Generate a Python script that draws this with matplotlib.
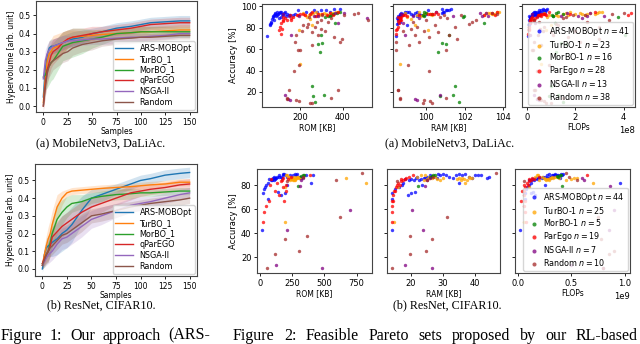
import matplotlib
matplotlib.use("Agg")
import matplotlib.pyplot as plt
import numpy as np

# ---- hypervolume curves (mean and half band width) ----
samples = [0, 2, 4, 6, 8, 10, 15, 20, 25, 30, 40, 50, 60, 75, 90, 100, 110, 125, 140, 150]
hv_labels = ["ARS-MOBOpt", "TurBO_1", "MorBO_1", "qParEGO", "NSGA-II", "Random"]

mb_hv_ars = [0.05, 0.2, 0.28, 0.32, 0.33, 0.33, 0.34, 0.35, 0.36, 0.37, 0.38, 0.40, 0.41, 0.43, 0.44, 0.45, 0.46, 0.465, 0.47, 0.47]
mb_sd_ars = [0.05, 0.06, 0.05, 0.04, 0.04, 0.04, 0.04, 0.04, 0.04, 0.04, 0.04, 0.03, 0.03, 0.03, 0.03, 0.03, 0.03, 0.03, 0.03, 0.03]
mb_hv_turbo = [0.02, 0.15, 0.25, 0.29, 0.3, 0.32, 0.33, 0.35, 0.37, 0.38, 0.385, 0.39, 0.395, 0.40, 0.405, 0.41, 0.41, 0.415, 0.42, 0.42]
mb_sd_turbo = [0.03, 0.06, 0.07, 0.07, 0.07, 0.07, 0.07, 0.06, 0.05, 0.04, 0.03, 0.03, 0.03, 0.03, 0.03, 0.03, 0.03, 0.03, 0.03, 0.03]
mb_hv_morbo = [0.16, 0.17, 0.2, 0.22, 0.24, 0.25, 0.29, 0.33, 0.34, 0.35, 0.36, 0.37, 0.38, 0.40, 0.405, 0.41, 0.41, 0.41, 0.41, 0.41]
mb_sd_morbo = [0.05, 0.08, 0.1, 0.1, 0.1, 0.1, 0.09, 0.08, 0.08, 0.08, 0.07, 0.05, 0.04, 0.03, 0.03, 0.03, 0.03, 0.03, 0.03, 0.03]
mb_hv_parego = [0.0, 0.12, 0.2, 0.24, 0.28, 0.3, 0.32, 0.35, 0.37, 0.38, 0.39, 0.40, 0.41, 0.42, 0.43, 0.44, 0.45, 0.455, 0.46, 0.46]
mb_sd_parego = [0.03, 0.06, 0.07, 0.07, 0.07, 0.07, 0.06, 0.06, 0.05, 0.05, 0.04, 0.04, 0.03, 0.03, 0.03, 0.03, 0.03, 0.03, 0.03, 0.03]
mb_hv_nsga = [0.15, 0.25, 0.29, 0.31, 0.32, 0.33, 0.34, 0.35, 0.36, 0.36, 0.365, 0.37, 0.37, 0.375, 0.38, 0.38, 0.385, 0.39, 0.40, 0.40]
mb_sd_nsga = [0.08, 0.06, 0.05, 0.05, 0.04, 0.04, 0.04, 0.04, 0.03, 0.03, 0.03, 0.03, 0.03, 0.03, 0.03, 0.02, 0.02, 0.02, 0.02, 0.02]
mb_hv_random = [0.0, 0.1, 0.18, 0.22, 0.24, 0.25, 0.27, 0.29, 0.30, 0.32, 0.34, 0.35, 0.36, 0.37, 0.375, 0.38, 0.38, 0.385, 0.39, 0.39]
mb_sd_random = [0.02, 0.05, 0.06, 0.06, 0.06, 0.05, 0.05, 0.05, 0.05, 0.04, 0.04, 0.04, 0.03, 0.03, 0.03, 0.03, 0.02, 0.02, 0.02, 0.02]

rn_hv_ars = [0.0, 0.08, 0.12, 0.13, 0.14, 0.15, 0.17, 0.2, 0.22, 0.25, 0.33, 0.40, 0.42, 0.45, 0.48, 0.50, 0.51, 0.53, 0.54, 0.545]
rn_sd_ars = [0.02, 0.04, 0.05, 0.06, 0.07, 0.08, 0.09, 0.1, 0.1, 0.1, 0.08, 0.05, 0.04, 0.03, 0.03, 0.03, 0.03, 0.03, 0.03, 0.03]
rn_hv_turbo = [0.02, 0.08, 0.13, 0.17, 0.2, 0.25, 0.35, 0.40, 0.43, 0.44, 0.445, 0.45, 0.455, 0.46, 0.465, 0.47, 0.475, 0.48, 0.49, 0.49]
rn_sd_turbo = [0.02, 0.05, 0.06, 0.07, 0.08, 0.08, 0.07, 0.04, 0.02, 0.02, 0.02, 0.02, 0.02, 0.02, 0.02, 0.02, 0.02, 0.02, 0.02, 0.02]
rn_hv_morbo = [0.03, 0.05, 0.08, 0.1, 0.15, 0.2, 0.28, 0.32, 0.35, 0.37, 0.38, 0.40, 0.41, 0.42, 0.425, 0.43, 0.43, 0.435, 0.44, 0.44]
rn_sd_morbo = [0.03, 0.04, 0.05, 0.06, 0.07, 0.08, 0.08, 0.07, 0.06, 0.05, 0.04, 0.03, 0.03, 0.03, 0.03, 0.02, 0.02, 0.02, 0.02, 0.02]
rn_hv_parego = [0.03, 0.06, 0.08, 0.1, 0.13, 0.18, 0.21, 0.24, 0.26, 0.28, 0.32, 0.35, 0.37, 0.40, 0.43, 0.44, 0.45, 0.46, 0.475, 0.48]
rn_sd_parego = [0.02, 0.04, 0.05, 0.06, 0.06, 0.06, 0.06, 0.06, 0.06, 0.06, 0.06, 0.05, 0.05, 0.04, 0.04, 0.03, 0.03, 0.03, 0.03, 0.03]
rn_hv_nsga = [0.02, 0.04, 0.06, 0.08, 0.09, 0.1, 0.14, 0.17, 0.18, 0.2, 0.24, 0.28, 0.3, 0.33, 0.36, 0.37, 0.38, 0.40, 0.42, 0.43]
rn_sd_nsga = [0.02, 0.03, 0.04, 0.05, 0.05, 0.05, 0.06, 0.06, 0.06, 0.06, 0.06, 0.05, 0.05, 0.04, 0.04, 0.04, 0.03, 0.03, 0.03, 0.03]
rn_hv_random = [0.02, 0.05, 0.08, 0.1, 0.12, 0.13, 0.16, 0.19, 0.2, 0.22, 0.26, 0.3, 0.31, 0.33, 0.35, 0.36, 0.37, 0.38, 0.39, 0.40]
rn_sd_random = [0.02, 0.03, 0.04, 0.05, 0.05, 0.05, 0.05, 0.05, 0.05, 0.05, 0.05, 0.04, 0.04, 0.04, 0.03, 0.03, 0.03, 0.03, 0.03, 0.03]

# ---- Pareto sets, MobileNetv3 / DaLiAc (flops in 1e8) ----
mb_ars_acc = [72, 82, 84, 85, 83, 88, 90, 92, 93, 94, 91, 92, 93, 94, 94.5, 95, 93, 92, 94, 95, 93, 92, 92, 93, 96, 94, 95, 96, 96, 95, 97, 97, 89, 91, 87, 95, 90, 91, 92, 95, 96]
mb_ars_rom = [44, 58, 62, 66, 60, 70, 75, 78, 82, 85, 88, 92, 95, 100, 105, 110, 115, 120, 125, 130, 140, 150, 165, 175, 190, 250, 280, 300, 320, 340, 360, 385, 100, 72, 80, 90, 112, 135, 155, 230, 265]
mb_ars_ram = [98.4, 99.0, 98.5, 98.6, 98.45, 98.5, 98.55, 98.6, 98.65, 98.7, 98.6, 98.75, 98.8, 98.9, 99.0, 99.1, 99.2, 99.3, 99.4, 99.5, 99.6, 99.7, 99.9, 100.0, 100.1, 100.8, 100.9, 101.0, 101.2, 100.85, 100.8, 101.3, 98.45, 98.5, 98.5, 98.9, 98.55, 99.5, 99.8, 100.5, 101.1]
mb_ars_flops = [0.05, 0.1, 0.12, 0.15, 0.08, 0.15, 0.18, 0.2, 0.22, 0.25, 0.2, 0.25, 0.3, 0.32, 0.35, 0.4, 0.35, 0.3, 0.45, 0.5, 0.42, 0.38, 0.45, 0.55, 0.6, 0.7, 0.75, 0.8, 0.5, 0.65, 0.85, 0.65, 0.12, 0.1, 0.1, 0.28, 0.15, 0.4, 0.45, 0.55, 0.7]

mb_turbo_acc = [46.5, 77.6, 82, 92, 93, 94, 95, 93, 92, 94, 93, 95, 94, 93, 92, 94, 90, 88, 91, 93, 94, 92, 95]
mb_turbo_rom = [200, 193, 255, 240, 250, 262, 275, 285, 330, 345, 360, 370, 310, 300, 225, 215, 235, 248, 268, 320, 355, 290, 380]
mb_turbo_ram = [98.6, 100.1, 99.4, 99.8, 99.9, 100.0, 99.6, 100.2, 103.0, 103.2, 103.5, 103.7, 103.3, 103.6, 99.5, 98.9, 99.0, 99.2, 99.7, 103.4, 103.1, 100.3, 103.8]
mb_turbo_flops = [0.6, 0.8, 1.0, 1.2, 1.5, 1.6, 1.8, 2.0, 2.4, 2.6, 2.8, 3.0, 2.2, 2.3, 0.9, 0.7, 0.85, 0.2, 1.3, 2.5, 2.9, 1.7, 3.1]

mb_morbo_acc = [26, 16, 17.5, 10.7, 65, 66, 57, 73, 90, 91, 92, 94, 84.5, 93, 95, 91]
mb_morbo_rom = [257, 260, 310, 268, 286, 305, 292, 297, 315, 330, 345, 375, 365, 355, 385, 340]
mb_morbo_ram = [101.5, 100.7, 101.4, 101.7, 101.0, 100.8, 100.6, 101.2, 101.9, 99.9, 99.8, 100.0, 103.0, 100.3, 99.9, 101.95]
mb_morbo_flops = [1.0, 0.9, 1.3, 1.5, 1.6, 1.4, 1.2, 4.06, 3.78, 1.1, 1.05, 1.2, 1.15, 1.5, 1.3, 1.07]

mb_parego_acc = [80.7, 74.5, 84, 87, 87, 88.5, 90, 91.6, 93, 93, 91.6, 94.7, 93, 91.6, 91.6, 94.7, 93, 91, 93, 90, 87, 79, 77.6, 91.6, 92, 89, 86, 94]
mb_parego_rom = [106, 109, 113, 121, 160, 158, 168, 184, 200, 216, 224, 255, 286, 325, 356, 376, 247, 273, 302, 121, 137, 116, 102, 153, 190, 128, 118, 340]
mb_parego_ram = [98.5, 98.4, 98.55, 98.6, 98.7, 98.65, 98.7, 98.8, 100.1, 100.3, 98.9, 100.5, 100.6, 103.0, 103.6, 103.7, 100.2, 99.0, 100.4, 98.5, 98.6, 98.45, 98.4, 98.75, 99.6, 98.6, 98.5, 103.4]
mb_parego_flops = [0.1, 0.05, 0.12, 0.15, 0.3, 0.35, 0.4, 0.5, 0.6, 0.7, 0.55, 2.8, 1.8, 4.2, 0.8, 0.9, 0.65, 0.6, 0.75, 0.2, 0.25, 0.1, 0.08, 0.45, 0.5, 0.18, 0.15, 4.3]

mb_nsga_acc = [17, 13, 12.5, 91, 91, 90.7, 90.7, 94, 84, 94, 89.4, 93, 73]
mb_nsga_rom = [130, 145, 152, 148, 195, 265, 286, 365, 376, 408, 515, 120, 160]
mb_nsga_ram = [100.7, 99.4, 99.5, 99.3, 101.4, 102.9, 103.2, 103.1, 98.8, 102.8, 99.6, 98.7, 98.9]
mb_nsga_flops = [0.3, 0.4, 0.5, 1.4, 2.1, 2.5, 3.2, 2.6, 0.35, 1.65, 2.3, 0.2, 0.15]

mb_random_acc = [13.8, 12.8, 12, 10, 10, 14, 21.6, 39.6, 45.5, 59, 63.6, 73, 82, 76, 73, 79, 77, 71, 67, 69, 87.5, 94, 91.6, 88.5, 85.4, 83, 80.7, 91.6, 22, 67, 59, 14.4, 76.7, 81, 93, 85, 87, 90]
mb_random_rom = [139, 183, 197, 245, 258, 347, 377, 170, 197, 200, 255, 183, 216, 255, 286, 299, 319, 361, 387, 396, 518, 471, 408, 347, 278, 239, 231, 302, 150, 175, 190, 140, 210, 270, 455, 330, 300, 240]
mb_random_ram = [98.6, 99.9, 100.2, 99.8, 100.3, 101.0, 98.5, 100.15, 99.05, 98.4, 99.1, 99.4, 100.45, 100.6, 101.2, 99.2, 99.9, 100.15, 98.4, 101.6, 102.6, 103.4, 101.8, 101.1, 102.4, 102.2, 101.5, 100.9, 98.5, 99.6, 101.0, 98.6, 98.8, 99.5, 103.7, 99.3, 100.0, 100.7]
mb_random_flops = [0.5, 0.6, 0.7, 1.0, 0.8, 1.5, 0.3, 0.4, 0.9, 0.25, 0.6, 0.45, 1.3, 0.98, 1.1, 0.55, 2.0, 1.7, 2.2, 3.0, 3.4, 4.0, 2.4, 1.5, 2.5, 1.2, 3.0, 1.9, 0.35, 0.3, 0.2, 0.45, 0.65, 0.7, 3.5, 0.5, 0.3, 1.6]

# ---- Pareto sets, ResNet / CIFAR10 (flops in 1e9) ----
rn_ars_acc = [43, 73, 77, 78, 80, 82, 68, 85, 84, 86, 87, 85, 86, 87, 88, 87, 86, 88, 89, 88, 87, 86, 74, 72, 73, 80, 86, 88, 89, 88, 89, 87, 86, 88, 82, 88, 85, 84, 87, 89, 88, 86, 87, 84]
rn_ars_rom = [18, 25, 30, 40, 50, 62, 65, 72, 90, 100, 110, 115, 125, 135, 150, 160, 170, 180, 190, 200, 210, 120, 140, 160, 195, 210, 250, 260, 270, 280, 290, 300, 320, 360, 395, 410, 95, 105, 145, 175, 230, 240, 310, 85]
rn_ars_ram = [14.1, 14.1, 15, 16.2, 17.3, 17.5, 14.2, 18, 20.9, 21.5, 22, 23, 24, 25, 26, 27, 28, 29, 30, 31, 32, 24.5, 21.4, 19, 20, 23.5, 33, 34, 35, 36, 37, 38, 39, 40, 35.1, 41, 20, 22.5, 26.5, 28.5, 42, 43.8, 44.5, 19.5]
rn_ars_flops = [0.02, 0.06, 0.07, 0.08, 0.1, 0.12, 0.06, 0.13, 0.15, 0.17, 0.2, 0.18, 0.22, 0.25, 0.27, 0.3, 0.28, 0.33, 0.35, 0.32, 0.38, 0.2, 0.14, 0.16, 0.12, 0.25, 0.3, 0.35, 0.4, 0.36, 0.42, 0.31, 0.27, 0.34, 0.96, 0.41, 0.14, 0.12, 0.23, 0.29, 0.37, 0.39, 0.33, 0.1]

rn_turbo_acc = [49, 78, 84, 85, 86, 87, 86, 85.6, 82, 87, 86, 85, 84, 88, 87, 86, 85, 84, 86, 87, 88, 87, 85, 84, 86]
rn_turbo_rom = [195, 195, 235, 245, 255, 265, 280, 670, 820, 290, 300, 275, 270, 210, 225, 230, 250, 260, 285, 295, 205, 215, 240, 265, 310]
rn_turbo_ram = [14.6, 16, 24, 25, 26, 27, 35, 36, 37, 38, 39, 34.5, 35.5, 24.5, 25.5, 26.5, 36.5, 37.5, 38.5, 27.5, 23, 22, 28, 29, 30]
rn_turbo_flops = [0.05, 0.1, 0.2, 0.25, 0.3, 0.32, 0.52, 0.55, 0.7, 0.35, 0.38, 0.5, 0.45, 0.18, 0.22, 0.24, 0.28, 0.26, 0.33, 0.36, 0.19, 0.16, 0.27, 0.29, 0.31]

rn_morbo_acc = [79, 87, 88, 87.5, 88]
rn_morbo_rom = [297, 330, 336, 320, 345]
rn_morbo_ram = [22.3, 26, 27.5, 26.5, 27]
rn_morbo_flops = [0.41, 0.37, 0.4, 0.36, 0.39]

rn_parego_acc = [49, 58, 63, 67, 80, 85, 75, 82, 72, 84, 78, 67, 75, 80, 85, 87, 86, 83, 88]
rn_parego_rom = [25, 30, 50, 70, 75, 85, 115, 130, 150, 170, 175, 190, 200, 205, 215, 240, 180, 160, 390]
rn_parego_ram = [14.1, 14.1, 14.2, 14.5, 15.5, 17, 14.8, 16, 14.3, 17.5, 15.2, 14.2, 15, 16.5, 18, 19.5, 18.5, 16.8, 20.5]
rn_parego_flops = [0.07, 0.06, 0.05, 0.06, 0.05, 0.1, 0.04, 0.08, 0.05, 0.12, 0.06, 0.03, 0.05, 0.09, 0.15, 0.2, 0.13, 0.1, 0.65]

rn_nsga_acc = [43, 14, 11.5, 59, 84, 86, 79]
rn_nsga_rom = [207, 128, 478, 695, 322, 335, 310]
rn_nsga_ram = [23.8, 18, 26.5, 20.2, 25, 26, 24.5]
rn_nsga_flops = [0.85, 0.5, 0.8, 0.9, 0.62, 0.6, 0.86]

rn_random_acc = [11, 22.6, 35.6, 25.5, 37.4, 53.3, 84, 90, 83, 87]
rn_random_rom = [56, 116, 194, 305, 367, 620, 589, 788, 210, 330]
rn_random_ram = [14.1, 19.7, 26.5, 24.7, 19.7, 31.3, 25, 46.5, 15.5, 27]
rn_random_flops = [0.8, 0.85, 0.78, 0.9, 0.15, 0.75, 0.55, 0.45, 0.05, 0.48]

sc_names = ["ARS-MOBOpt", "TurBO-1", "MorBO-1", "ParEgo", "NSGA-II", "Random"]
mb_counts = [41, 23, 16, 28, 13, 38]
rn_counts = [44, 25, 5, 19, 7, 10]

hv_colors = ["C0", "C1", "C2", "C3", "C4", "C5"]
sc_colors = ["blue", "orange", "green", "red", "purple", "brown"]

W, H = 640, 344
fig = plt.figure(figsize=(6.4, 3.44), dpi=100)


def px_axes(x0, y0, x1, y1):
    return fig.add_axes([x0 / W, 1 - y1 / H, (x1 - x0) / W, (y1 - y0) / H])


def style(ax, size=6):
    ax.tick_params(labelsize=size, length=2.5, width=0.6, pad=1.5)
    for s in ax.spines.values():
        s.set_linewidth(0.8)
        s.set_color("#444444")


def hv_panel(box, means, sds, ylim):
    ax = px_axes(*box)
    x = np.array(samples)
    for m, sd, c, lab in zip(means, sds, hv_colors, hv_labels):
        m = np.array(m)
        sd = np.array(sd)
        ax.fill_between(x, m - sd, m + sd, color=c, alpha=0.2, lw=0)
        ax.plot(x, m, color=c, lw=1.0, label=lab)
    ax.set_xlim(-7.5, 157.5)
    ax.set_ylim(*ylim)
    ax.set_xticks([0, 25, 50, 75, 100, 125, 150])
    ax.set_yticks([0.0, 0.1, 0.2, 0.3, 0.4, 0.5])
    ax.set_xlabel("Samples", fontsize=5.5, labelpad=0.5)
    ax.set_ylabel("Hypervolume [arb. unit]", fontsize=5.5, labelpad=2)
    style(ax, 5.5)
    ax.legend(loc="lower right", fontsize=5.8, handlelength=2.2, borderaxespad=0.3,
              labelspacing=0.22, borderpad=0.35, framealpha=0.8)
    return ax


def scatter_row(boxes, sets, counts, xlims, ylim, yticks, flops_scale):
    axes = [px_axes(*b) for b in boxes]
    for k, (acc, rom, ram, flops) in enumerate(sets):
        for j, xs in enumerate([rom, ram, np.array(flops) * flops_scale]):
            lab = f"{sc_names[k]} $n = {counts[k]}$" if j == 2 else None
            axes[j].scatter(xs, acc, s=6, color=sc_colors[k], alpha=0.75,
                            linewidths=0, label=lab)
    for j, ax in enumerate(axes):
        ax.set_xlim(*xlims[j])
        ax.set_ylim(*ylim)
        ax.set_yticks(yticks)
        style(ax, 6)
        if j > 0:
            ax.set_yticklabels([])
        ax.xaxis.get_offset_text().set_fontsize(6)
    axes[0].set_ylabel("Accuracy [%]", fontsize=6, labelpad=2)
    axes[0].set_xlabel("ROM [KB]", fontsize=5.5, labelpad=1)
    axes[1].set_xlabel("RAM [KB]", fontsize=5.5, labelpad=1)
    axes[2].set_xlabel("FLOPs", fontsize=5.5, labelpad=1)
    axes[2].legend(loc="lower right", fontsize=5.8, handletextpad=0.2, markerscale=1.2,
                   borderaxespad=0.3, labelspacing=0.18, borderpad=0.35, framealpha=0.8)
    return axes


# Hypervolume panels
hv_panel((36, 1, 197, 112),
         [mb_hv_ars, mb_hv_turbo, mb_hv_morbo, mb_hv_parego, mb_hv_nsga, mb_hv_random],
         [mb_sd_ars, mb_sd_turbo, mb_sd_morbo, mb_sd_parego, mb_sd_nsga, mb_sd_random],
         (-0.033, 0.58))
hv_panel((35, 164, 197, 276),
         [rn_hv_ars, rn_hv_turbo, rn_hv_morbo, rn_hv_parego, rn_hv_nsga, rn_hv_random],
         [rn_sd_ars, rn_sd_turbo, rn_sd_morbo, rn_sd_parego, rn_sd_nsga, rn_sd_random],
         (-0.04, 0.593))

# Pareto scatter panels
mb_sets = [
    (mb_ars_acc, mb_ars_rom, mb_ars_ram, mb_ars_flops),
    (mb_turbo_acc, mb_turbo_rom, mb_turbo_ram, mb_turbo_flops),
    (mb_morbo_acc, mb_morbo_rom, mb_morbo_ram, mb_morbo_flops),
    (mb_parego_acc, mb_parego_rom, mb_parego_ram, mb_parego_flops),
    (mb_nsga_acc, mb_nsga_rom, mb_nsga_ram, mb_nsga_flops),
    (mb_random_acc, mb_random_rom, mb_random_ram, mb_random_flops),
]
rn_sets = [
    (rn_ars_acc, rn_ars_rom, rn_ars_ram, rn_ars_flops),
    (rn_turbo_acc, rn_turbo_rom, rn_turbo_ram, rn_turbo_flops),
    (rn_morbo_acc, rn_morbo_rom, rn_morbo_ram, rn_morbo_flops),
    (rn_parego_acc, rn_parego_rom, rn_parego_ram, rn_parego_flops),
    (rn_nsga_acc, rn_nsga_rom, rn_nsga_ram, rn_nsga_flops),
    (rn_random_acc, rn_random_rom, rn_random_ram, rn_random_flops),
]
scatter_row([(262, 4, 372, 107), (393, 4, 505, 107), (522, 4, 635, 107)],
            mb_sets, mb_counts,
            [(22, 537), (98.26, 104.1), (-0.2e8, 4.47e8)], (6, 102),
            [20, 40, 60, 80, 100], 1e8)
scatter_row([(257, 169, 372, 273), (387, 169, 500, 273), (515, 169, 630, 273)],
            rn_sets, rn_counts,
            [(-23, 869), (12.5, 47.8), (-0.03e9, 1.05e9)], (7, 93.3),
            [20, 40, 60, 80], 1e9)

# Captions
serif = "Liberation Serif"
for cx, cy, txt in [(101, 143, "(a) MobileNetv3, DaLiAc."),
                    (450, 143, "(a) MobileNetv3, DaLiAc."),
                    (101, 305, "(b) ResNet, CIFAR10."),
                    (447, 305, "(b) ResNet, CIFAR10.")]:
    fig.text(cx / W, 1 - cy / H, txt, family=serif, fontsize=8.7, ha="center", va="center")

renderer = fig.canvas.get_renderer()


def justified(words, x0, x1, y, size):
    texts = [fig.text(0, 1 - y / H, w, family=serif, fontsize=size, ha="left",
                      va="baseline") for w in words]
    widths = [t.get_window_extent(renderer).width for t in texts]
    gap = (x1 - x0 - sum(widths)) / (len(words) - 1)
    x = x0
    for t, w in zip(texts, widths):
        t.set_x(x / W)
        x += w + gap


justified(["Figure", "1:", "Our", "approach", "(ARS-"], 1, 210, 339.5, 11.5)
justified(["Figure", "2:", "Feasible", "Pareto", "sets", "proposed", "by", "our", "RL-based"],
          233, 638, 339.5, 11.5)

fig.savefig("out.png", dpi=100)
